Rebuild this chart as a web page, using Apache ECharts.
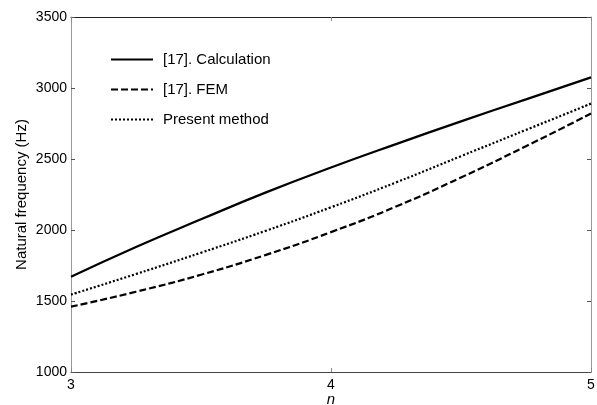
<!DOCTYPE html>
<html>
<head>
<meta charset="utf-8">
<script src="https://cdn.jsdelivr.net/npm/echarts@6/dist/echarts.min.js"></script>
<style>
  html, body { margin: 0; padding: 0; background: #fff; }
  #chart { width: 597px; height: 405px; }
</style>
</head>
<body>
<div id="chart"></div>
<script>
// values
const nValues = [3, 3.25, 3.5, 3.75, 4, 4.25, 4.5, 4.75, 5]
const calcValues = [1670, 1880, 2075, 2265, 2440, 2605, 2765, 2920, 3075]
const femValues = [1460, 1565, 1685, 1825, 1985, 2165, 2370, 2590, 2820]
const presentValues = [1545, 1690, 1840, 1995, 2160, 2335, 2520, 2705, 2890]
const yTicks = [1000, 1500, 2000, 2500, 3000, 3500]
const xTicks = [3, 4, 5]

const font = 'Liberation Sans, Arial, sans-serif'

function pairs(ys) {
  return nValues.map((x, i) => [x, ys[i]])
}

const chart = echarts.init(document.getElementById('chart'))

const option = {
  backgroundColor: '#fff',
  animation: false,
  grid: { left: 71, right: 6, top: 17, bottom: 33, containLabel: false, outerBoundsMode: 'none' },
  legend: {
    orient: 'vertical',
    left: 105,
    top: 47,
    itemWidth: 42,
    itemHeight: 14,
    itemGap: 15,
    itemStyle: { opacity: 0 },
    textStyle: { color: '#000', fontFamily: font, fontSize: 15, padding: [0, 0, 0, 5] },
    data: ['[17]. Calculation', '[17]. FEM', 'Present method']
  },
  xAxis: [
    {
      type: 'value',
      min: xTicks[0],
      max: xTicks[xTicks.length - 1],
      interval: 1,
      name: 'n',
      nameLocation: 'middle',
      nameGap: 20,
      nameMoveOverlap: false,
      nameTextStyle: { color: '#000', fontFamily: font, fontSize: 15, fontStyle: 'italic' },
      axisLine: { lineStyle: { color: '#444', width: 1 } },
      axisTick: { inside: true, length: 4, lineStyle: { color: '#888' } },
      axisLabel: { color: '#000', fontFamily: font, fontSize: 14, margin: 6 },
      splitLine: { show: false }
    },
    {
      type: 'value',
      position: 'top',
      min: xTicks[0],
      max: xTicks[xTicks.length - 1],
      interval: 1,
      axisLine: { lineStyle: { color: '#222', width: 1 } },
      axisTick: { inside: true, length: 4, lineStyle: { color: '#888' } },
      axisLabel: { show: false },
      splitLine: { show: false }
    }
  ],
  yAxis: [
    {
      type: 'value',
      min: yTicks[0],
      max: yTicks[yTicks.length - 1],
      interval: 500,
      name: 'Natural frequency (Hz)',
      nameLocation: 'middle',
      nameGap: 42,
      nameMoveOverlap: false,
      nameTextStyle: { color: '#000', fontFamily: font, fontSize: 15 },
      axisLine: { show: true, lineStyle: { color: '#999', width: 1 } },
      axisTick: { show: true, inside: true, length: 4, lineStyle: { color: '#555' } },
      axisLabel: { color: '#000', fontFamily: font, fontSize: 14, margin: 4, formatter: v => String(v) },
      splitLine: { show: false }
    },
    {
      type: 'value',
      position: 'right',
      min: yTicks[0],
      max: yTicks[yTicks.length - 1],
      interval: 500,
      axisLine: { show: true, lineStyle: { color: '#999', width: 1 } },
      axisTick: { show: true, inside: true, length: 4, lineStyle: { color: '#555' } },
      axisLabel: { show: false },
      splitLine: { show: false }
    }
  ],
  series: [
    {
      name: '[17]. Calculation',
      type: 'line',
      smooth: true,
      symbol: 'none',
      data: pairs(calcValues),
      lineStyle: { color: '#000', width: 2.2, type: 'solid' },
      itemStyle: { color: '#000' }
    },
    {
      name: '[17]. FEM',
      type: 'line',
      smooth: true,
      symbol: 'none',
      data: pairs(femValues),
      lineStyle: { color: '#000', width: 2.2, type: [7, 3] },
      itemStyle: { color: '#000' }
    },
    {
      name: 'Present method',
      type: 'line',
      smooth: true,
      symbol: 'none',
      data: pairs(presentValues),
      lineStyle: { color: '#000', width: 2.2, type: [2, 2] },
      itemStyle: { color: '#000' }
    }
  ]
}

chart.setOption(option)
</script>
</body>
</html>
